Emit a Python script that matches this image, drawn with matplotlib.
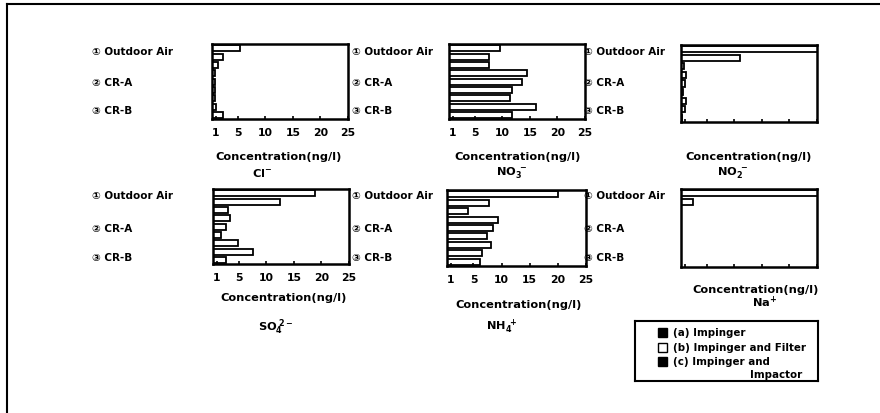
import matplotlib
matplotlib.use("Agg")
import matplotlib.pyplot as plt
from matplotlib.patches import Rectangle
from matplotlib.lines import Line2D

plt.rcParams['font.family'] = ['DejaVu Sans', 'Noto Sans CJK JP']

# ---- data ----
categories = ['① Outdoor Air', '② CR-A', '③ CR-B']
series = ['(a) Impinger', '(b) Impinger and Filter', '(c) Impinger and']
series_extra = 'Impactor'
series_colors = ['black', 'white', 'black']
tick_values = [1, 5, 10, 15, 20, 25]
tick_labels = ['1', '5', '10', '15', '20', '25']

ions = [r'$\mathregular{Cl^{-}}$', r'$\mathregular{NO_3^{\ -}}$', r'$\mathregular{NO_2^{\ -}}$',
        r'$\mathregular{SO_4^{\ 2-}}$', r'$\mathregular{NH_4^{\ +}}$', r'$\mathregular{Na^{+}}$']

# values[group][series]  (ng/l)
cl  = [[5.4, 2.3, 1.4], [0.9, 0.8, 0.9], [0.9, 1.0, 2.3]]
no3 = [[9.6, 7.6, 7.6], [14.5, 13.5, 11.7], [11.4, 16.1, 11.7]]
no2 = [[26.0, 11.0, 0.8], [1.2, 1.0, 0.6], [1.2, 1.0, 0.5]]
so4 = [[18.8, 12.4, 3.0], [3.3, 2.7, 1.8], [4.8, 7.6, 2.7]]
nh4 = [[20.0, 7.7, 4.0], [9.3, 8.4, 7.4], [8.2, 6.5, 6.2]]
na  = [[26.0, 2.5, 0.3], [0.3, 0.3, 0.3], [0.3, 0.3, 0.3]]
panel_values = [cl, no3, no2, so4, nh4, na]

W, H = 880, 414
fig = plt.figure(figsize=(W / 100, H / 100), dpi=100)
fig.patch.set_facecolor('white')

def box(x0, y0, x1, y1):
    return [x0 / W, 1 - y1 / H, (x1 - x0) / W, (y1 - y0) / H]

FS = 7.5
FW = 'bold'

# frame lines (partially visible)
fig.add_artist(Line2D([7 / W, 1], [1 - 5 / H, 1 - 5 / H], color='black', lw=1.5))
fig.add_artist(Line2D([7 / W, 7 / W], [1 - 5 / H, 0], color='black', lw=1.5))

panel_boxes = [(212, 45, 348, 120), (449, 45, 585, 120), (681, 46, 817, 123),
               (213, 190, 349, 265), (447, 191, 586, 267), (681, 190, 817, 268)]
show_ticklabels = [True, True, False, True, True, False]
conc_pos = [(279, 157), (518, 157), (749, 157), (284, 298), (519, 305), (756, 290)]
ion_pos = [(262, 173), (512, 173), (733, 173), (276, 327), (502, 327), (765, 302)]
label_x = [92, 352, 584]
label_y_top = [52, 83, 111]
label_y_bot = [196, 229, 258]

for i, (vals, bx) in enumerate(zip(panel_values, panel_boxes)):
    ax = fig.add_axes(box(*bx))
    pos = 0
    for g in range(len(categories)):
        for s in range(len(series)):
            ax.barh(pos, vals[g][s], height=0.72, left=0, color='white',
                    edgecolor='black', linewidth=1.3, clip_on=True)
            pos += 1
    ax.set_xlim(0.3, 25)
    ax.set_ylim(8.5, -0.5)
    ax.set_yticks([])
    ax.set_xticks(tick_values)
    ax.tick_params(axis='x', direction='in', length=2, width=1.2, pad=6)
    if show_ticklabels[i]:
        ax.set_xticklabels(tick_labels, fontsize=FS + 0.3, fontweight=FW)
    else:
        ax.set_xticklabels([])
    for sp in ax.spines.values():
        sp.set_linewidth(1.8)
    cx, cy = conc_pos[i]
    fig.text(cx / W, 1 - cy / H, 'Concentration(ng/l)', ha='center', va='center',
             fontsize=8.2, fontweight=FW)
    ix, iy = ion_pos[i]
    fig.text(ix / W, 1 - iy / H, ions[i], ha='center', va='center',
             fontsize=8.2, fontweight=FW)
    col = i % 3
    ys = label_y_top if i < 3 else label_y_bot
    for g, cat in enumerate(categories):
        fig.text(label_x[col] / W, 1 - ys[g] / H, cat, ha='left', va='center',
                 fontsize=FS, fontweight=FW)

# legend box
lax = fig.add_axes(box(635, 322, 818, 382))
lax.set_xlim(635, 818)
lax.set_ylim(382, 322)
lax.set_xticks([])
lax.set_yticks([])
for sp in lax.spines.values():
    sp.set_linewidth(1.5)
leg_y = [333, 348, 362]
for s, name in enumerate(series):
    lax.add_patch(Rectangle((658, leg_y[s] - 4.5), 9, 9, facecolor=series_colors[s],
                            edgecolor='black', linewidth=1))
    lax.text(673, leg_y[s], name, ha='left', va='center', fontsize=7.4, fontweight=FW)
lax.text(750, 375, series_extra, ha='left', va='center', fontsize=7.4, fontweight=FW)

fig.savefig('out.png', dpi=100, facecolor='white')
